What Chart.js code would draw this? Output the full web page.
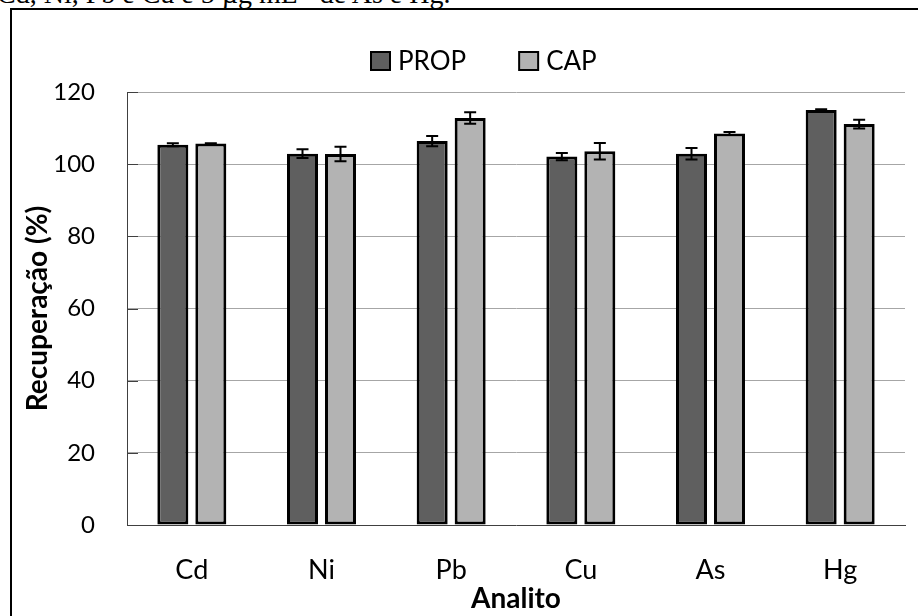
<!DOCTYPE html>
<html>
<head>
<meta charset="utf-8">
<script src="https://cdn.jsdelivr.net/npm/chart.js@4.4.1/dist/chart.umd.min.js"></script>
<style>
  html, body { margin: 0; padding: 0; background: #fff; }
  #wrap { position: relative; width: 918px; height: 616px; overflow: hidden; }
  #caption {
    position: absolute; left: -3px; top: -20px;
    font: 28px "Liberation Serif", "DejaVu Serif", serif;
    line-height: 28px; white-space: nowrap; color: #000;
  }
  #caption sup { font-size: 18px; vertical-align: 9px; line-height: 0; }
  #frame {
    position: absolute; left: 10px; top: 8px; width: 930px; height: 630px;
    border-left: 2px solid #000; border-top: 2px solid #000;
  }
  canvas { position: absolute; left: 0; top: 0; }
</style>
</head>
<body>
<div id="wrap">
  <div id="caption">Cd, Ni, Pb e Cu e 5 µg mL<sup>-1</sup> de As e Hg.</div>
  <div id="frame"></div>
  <canvas id="chart" width="918" height="616"></canvas>
</div>
<script>
// Recovery (%) per analyte for the two procedures, with standard deviations
const categories = ['Cd', 'Ni', 'Pb', 'Cu', 'As', 'Hg'];
const propValues = [105.4, 102.9, 106.4, 102.1, 102.9, 115.0];
const propErrors = [0.4, 1.2, 1.4, 1.0, 1.6, 0.2];
const capValues  = [105.7, 102.8, 112.8, 103.6, 108.5, 111.1];
const capErrors  = [0.1, 2.0, 1.6, 2.3, 0.4, 1.2];
const yTickValues = [0, 20, 40, 60, 80, 100, 120];

const FONT = 'Lato, "Open Sans", sans-serif';
const INK = '#000';
const AXIS = '#404040';

// Error bars (mean ± SD) on top of each bar
const errorBars = {
  id: 'errorBars',
  afterDatasetsDraw(chart) {
    const { ctx, scales: { y } } = chart;
    chart.data.datasets.forEach((ds, di) => {
      const meta = chart.getDatasetMeta(di);
      meta.data.forEach((bar, i) => {
        const v = ds.data[i], e = ds.errors[i];
        const yHi = y.getPixelForValue(v + e);
        const yLo = y.getPixelForValue(v - e);
        const x = bar.x, cap = 6;
        ctx.save();
        ctx.strokeStyle = '#000';
        ctx.lineWidth = 2;
        ctx.beginPath();
        ctx.moveTo(x, yHi); ctx.lineTo(x, yLo);
        ctx.moveTo(x - cap, yHi); ctx.lineTo(x + cap, yHi);
        ctx.moveTo(x - cap, yLo); ctx.lineTo(x + cap, yLo);
        ctx.stroke();
        ctx.restore();
      });
    });
  }
};

// Short tick marks pointing into the plot from the value axis
const innerTicks = {
  id: 'innerTicks',
  afterDraw(chart) {
    const { ctx, chartArea, scales: { y } } = chart;
    ctx.save();
    ctx.strokeStyle = AXIS;
    ctx.lineWidth = 1;
    ctx.beginPath();
    y.ticks.forEach(t => {
      const py = Math.round(y.getPixelForValue(t.value)) + 0.5;
      ctx.moveTo(chartArea.left, py);
      ctx.lineTo(chartArea.left + 11, py);
    });
    ctx.stroke();
    ctx.restore();
  }
};

// Single-row legend above the plot
const legendRow = {
  id: 'legendRow',
  afterDraw(chart) {
    const ctx = chart.ctx;
    const items = chart.data.datasets;
    ctx.save();
    ctx.font = '26px ' + FONT;
    ctx.textBaseline = 'middle';
    const box = 19, gap = 8, spacing = 53;
    const widths = items.map(d => box + gap + ctx.measureText(d.label).width);
    const total = widths.reduce((a, b) => a + b, 0) + spacing * (items.length - 1);
    let x = Math.round(484 - total / 2);
    const cy = 61;
    items.forEach((d, i) => {
      ctx.fillStyle = d.backgroundColor;
      ctx.fillRect(x, cy - 9, box, 18);
      ctx.lineWidth = 2;
      ctx.strokeStyle = '#000';
      ctx.strokeRect(x, cy - 9, box, 18);
      ctx.fillStyle = INK;
      ctx.fillText(d.label, x + box + gap, cy + 1);
      x += widths[i] + spacing;
    });
    ctx.restore();
  }
};

new Chart(document.getElementById('chart'), {
  type: 'bar',
  data: {
    labels: categories,
    datasets: [
      {
        label: 'PROP', data: propValues, errors: propErrors,
        backgroundColor: '#5f5f5f', borderColor: '#000', borderWidth: 3,
        borderSkipped: false, categoryPercentage: 0.586, barPercentage: 0.816
      },
      {
        label: 'CAP', data: capValues, errors: capErrors,
        backgroundColor: '#b3b3b3', borderColor: '#000', borderWidth: 3,
        borderSkipped: false, categoryPercentage: 0.586, barPercentage: 0.816
      }
    ]
  },
  options: {
    responsive: false,
    animation: false,
    layout: { padding: { left: 17, right: 13, top: 92, bottom: 0 } },
    plugins: {
      legend: { display: false },
      tooltip: { enabled: false }
    },
    scales: {
      x: {
        grid: { display: false, drawTicks: false },
        border: { display: true, color: AXIS, width: 1 },
        ticks: { color: INK, font: { family: FONT, size: 27 }, padding: 29 },
        title: {
          display: true, text: 'Analito', color: INK,
          font: { family: FONT, size: 28, weight: 'bold' },
          padding: { top: 0, bottom: 0 }
        },
        afterFit(scale) { scale.height = 91; }
      },
      y: {
        min: 0, max: 120,
        afterBuildTicks(scale) { scale.ticks = yTickValues.map(v => ({ value: v })); },
        grid: { color: ctx => ctx.tick && ctx.tick.value === 0 ? 'rgba(0,0,0,0)' : '#a6a6a6', lineWidth: 1, drawTicks: false },
        border: { display: true, color: AXIS, width: 1 },
        ticks: { color: INK, font: { family: FONT, size: 24 }, padding: 32 },
        title: {
          display: true, text: 'Recuperação (%)', color: INK,
          font: { family: FONT, size: 28, weight: 'bold' },
          padding: { top: 4, bottom: 0 }
        },
        afterFit(scale) { scale.width = 110; }
      }
    }
  },
  plugins: [errorBars, innerTicks, legendRow]
});
</script>
</body>
</html>
